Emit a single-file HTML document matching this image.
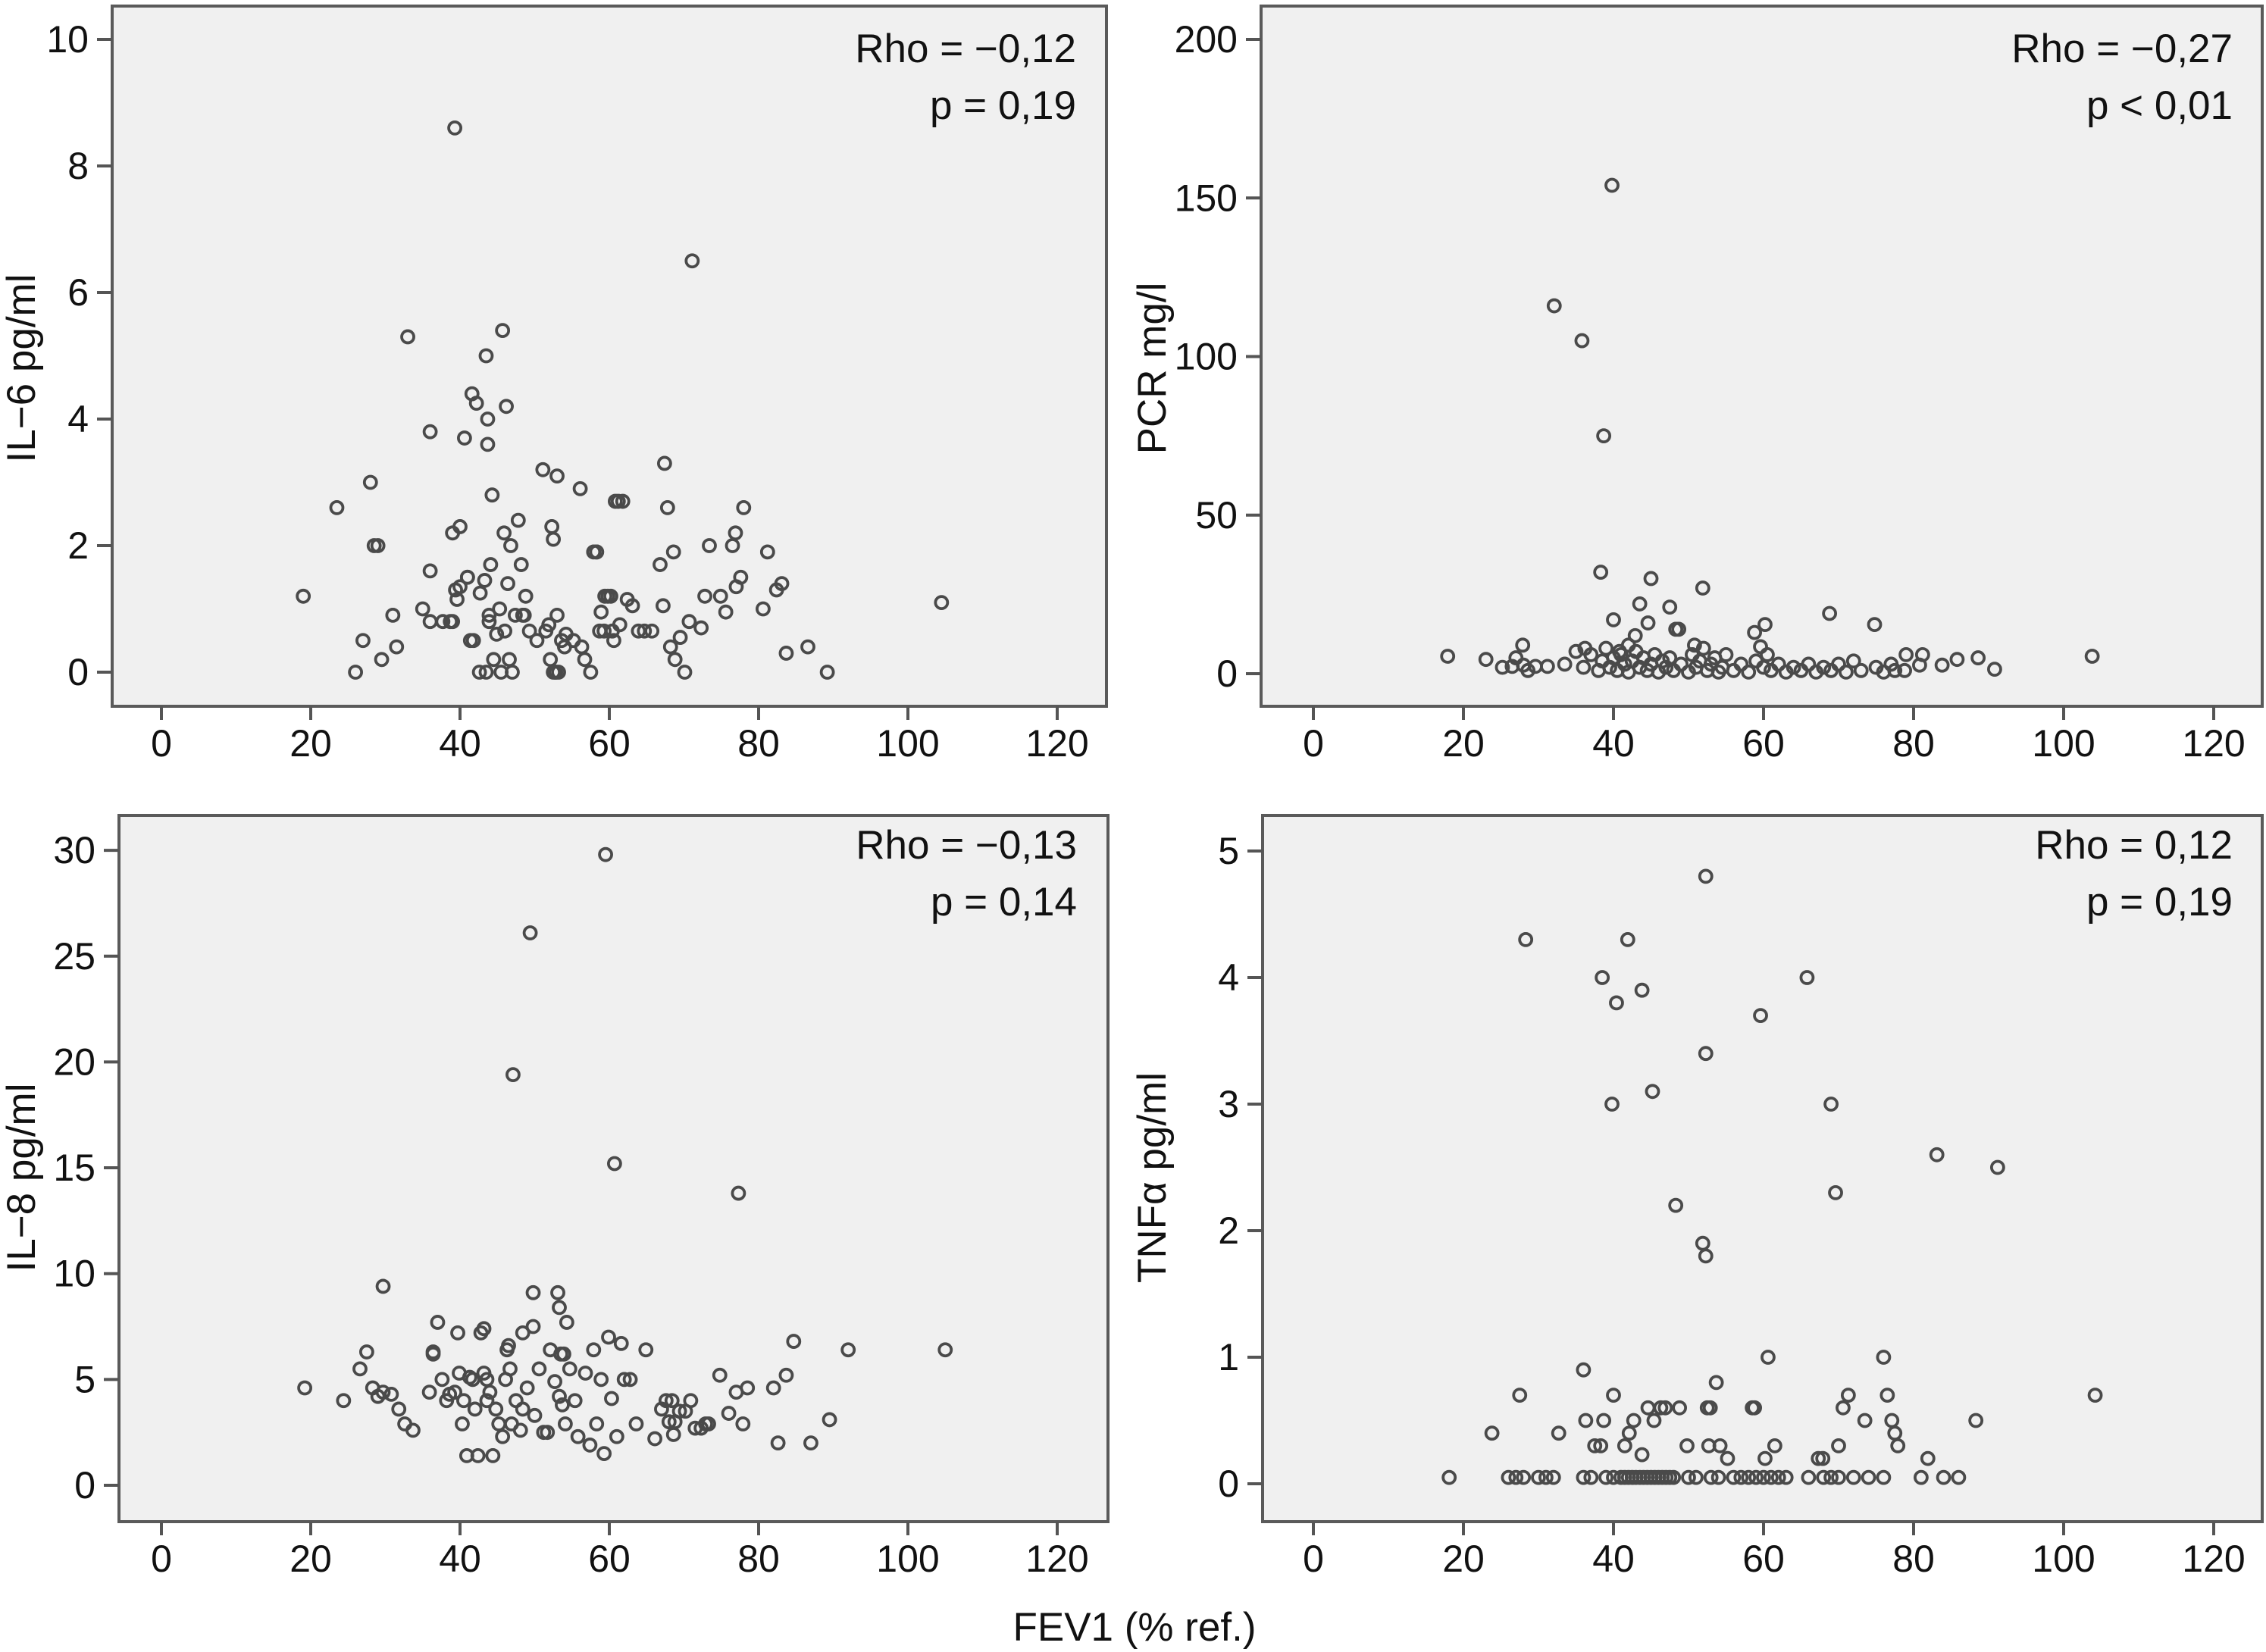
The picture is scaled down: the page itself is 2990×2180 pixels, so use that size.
<!DOCTYPE html>
<html><head><meta charset="utf-8"><style>
html,body{margin:0;padding:0;background:#fff}
svg{display:block}
text{font-family:"Liberation Sans",Arial,sans-serif;fill:#111}
</style></head><body>
<svg id="chart" width="2990" height="2180" viewBox="0 0 2990 2180" xmlns="http://www.w3.org/2000/svg">
<text x="1497" y="2165" font-size="53" text-anchor="middle">FEV1 (% ref.)</text>
</svg>
<script>
const xTicks = [0,20,40,60,80,100,120];
const il6Ticks = [0,2,4,6,8,10];
const pcrTicks = [0,50,100,150,200];
const il8Ticks = [0,5,10,15,20,25,30];
const tnfTicks = [0,1,2,3,4,5];
const il6Fev = [19,23.5,26,27,28,28.5,29,29.5,31,31.5,33,35,36,36,36,37.7,38.7,39,40,39,39.4,40,39.6,39.3,40.6,41,41,41.6,41.8,41.4,42.2,42.6,42.7,43.3,43.5,43.5,43.7,43.7,43.9,43.9,44.1,44.3,44.5,44.9,45.3,45.5,45.7,45.9,46,46.2,46.4,46.6,46.8,47,47.4,47.8,48.2,48.6,48.4,48.8,49.3,50.3,51.1,51.5,51.9,52.1,52.5,52.8,53.2,52.8,53,52.3,52.5,53,53.6,54,54.2,55.2,56.3,56.1,56.7,57.5,58.3,57.9,58.3,58.9,58.7,59.3,59.8,59.4,60.2,60.4,60.6,61.4,61.8,60.8,61.2,62.4,63.1,63.9,64.7,65.7,66.8,67.2,67.4,67.8,68.2,68.6,68.8,69.5,70.1,70.7,71.1,72.3,72.8,73.4,74.9,75.6,76.5,76.9,77,77.6,78,80.6,81.2,82.4,83.1,83.7,86.6,89.2,104.5];
const il6Val = [1.2,2.6,0,0.5,3.0,2.0,2.0,0.2,0.9,0.4,5.3,1.0,1.6,3.8,0.8,0.8,0.8,0.8,2.3,2.2,1.3,1.35,1.15,8.6,3.7,1.5,1.5,4.4,0.5,0.5,4.25,0,1.25,1.45,0,5.0,4.0,3.6,0.9,0.8,1.7,2.8,0.2,0.6,1.0,0,5.4,2.2,0.65,4.2,1.4,0.2,2.0,0,0.9,2.4,1.7,0.9,0.9,1.2,0.65,0.5,3.2,0.65,0.75,0.2,0,0,0,0,3.1,2.3,2.1,0.9,0.5,0.4,0.6,0.5,0.4,2.9,0.2,0,1.9,1.9,1.9,0.95,0.65,0.65,1.2,1.2,1.2,0.65,0.5,0.75,2.7,2.7,2.7,1.15,1.05,0.65,0.65,0.65,1.7,1.05,3.3,2.6,0.4,1.9,0.2,0.55,0,0.8,6.5,0.7,1.2,2.0,1.2,0.95,2.0,2.2,1.35,1.5,2.6,1.0,1.9,1.3,1.4,0.3,0.4,0,1.1,0,1.2];
const pcrFev = [17.9,23,25.2,26.5,27,27.9,28,28.6,29.6,31.2,32.1,35.8,38.7,39.8,38.3,68.8,74.8,51.9,45,43.5,47.5,40,44.6,42.9,48.3,48.7,60.2,58.8,36.2,42,50.8,59.6,40.8,33.5,35,36,37,38,38.5,39,39.5,40,40.5,41,41.5,42,42.5,43,43.5,44,44.5,45,45.5,46,46.5,47,47.5,48,49,50,50.5,51,51.5,52,52.5,53,53.5,54,54.5,55,56,57,58,59,60,60.5,61,62,63,64,65,66,67,68,69,70,71,72,73,75,76,77,77.5,79,78.8,80.8,83.8,81.2,85.8,88.6,90.8,103.8];
const pcrVal = [5.5,4.5,2,2.3,5,9,2.7,1,2.3,2.3,116,105,75,154,32,19,15.5,27,30,22,21,17,16,12,14,14,15.5,13,8,9,9,8.5,7,3,7,2,6,1,4,8,2,5,1,6,3,0.5,4,7,2,5,1,3,6,0.5,4,2,5,1,3,0.5,6,2,4,8,1,3,5,0.5,2,6,1,3,0.5,4,2,6,1,3,0.5,2,1,3,0.5,2,1,3,0.5,4,1,2,0.5,3,1,6,1,2.7,2.7,6,4.5,5,1.4,5.5];
const il8Fev = [19.2,24.4,26.6,27.5,28.3,29,29.7,29.7,30.8,31.8,32.6,33.7,35.9,36.4,36.4,37,37.6,38.2,38.6,39.3,39.7,39.9,40.3,40.5,40.9,41.3,41.7,42,42.4,42.8,43.2,43.2,43.6,43.6,44,44.4,44.8,45.2,45.7,46.1,46.5,46.3,46.7,47.1,46.9,47.5,48.1,48.4,48.4,49,49.4,49.8,49.8,50,50.6,51.2,51.7,52.1,52.7,53.1,53.3,53.5,53.9,53.3,53.7,54.1,54.3,54.7,55.4,55.8,56.8,57.4,57.9,58.3,58.9,59.3,59.5,59.9,60.3,60.7,61,61.6,62,62.8,63.6,64.9,66.1,67,67.6,68.4,68,68.8,68.6,69.4,70.2,70.9,71.5,72.3,72.9,73.3,74.8,76,77,77.3,77.9,78.5,82,82.6,83.7,84.7,87,89.5,92,105];
const il8Val = [4.6,4.0,5.5,6.3,4.6,4.2,4.4,9.4,4.3,3.6,2.9,2.6,4.4,6.3,6.2,7.7,5,4,4.3,4.4,7.2,5.3,2.9,4,1.4,5.1,5,3.6,1.4,7.2,7.4,5.3,5,4,4.4,1.4,3.6,2.9,2.3,5,6.6,6.4,5.5,19.4,2.9,4,2.6,7.2,3.6,4.6,26.1,7.5,9.1,3.3,5.5,2.5,2.5,6.4,4.9,9.1,8.4,6.2,6.2,4.2,3.8,2.9,7.7,5.5,4,2.3,5.3,1.9,6.4,2.9,5,1.5,29.8,7,4.1,15.2,2.3,6.7,5,5,2.9,6.4,2.2,3.6,4,4,3,3,2.4,3.5,3.5,4,2.7,2.7,2.9,2.9,5.2,3.4,4.4,13.8,2.9,4.6,4.6,2,5.2,6.8,2,3.1,6.4,6.4];
const tnfFev = [18.1,23.8,27.5,28.3,32.7,36,36.3,37.5,38.3,38.7,38.5,39.8,40,40.4,41.5,41.9,42.1,42.7,43.8,43.8,44.6,45.2,45.4,46.3,46.9,48.3,48.8,49.8,51.9,52.3,52.3,52.3,52.5,52.9,52.7,53.7,54.2,55.2,58.5,58.8,59.6,60.2,60.6,61.5,65.8,67.3,67.9,69,69.6,70,70.6,71.3,73.5,76,76.5,77.1,77.5,77.9,81.9,83.1,88.3,91.2,104.2,26,27,28,30,31,32,36,37,39,40,41,41.5,42,42.5,43,43.5,44,44.5,45,45.5,46,46.5,47,47.5,48,50,51,53,54,56,57,58,59,60,61,62,63,66,68,69,70,72,74,76,81,84,86];
const tnfVal = [0.05,0.4,0.7,4.3,0.4,0.9,0.5,0.3,0.3,0.5,4.0,3.0,0.7,3.8,0.3,4.3,0.4,0.5,3.9,0.23,0.6,3.1,0.5,0.6,0.6,2.2,0.6,0.3,1.9,1.8,4.8,3.4,0.6,0.6,0.3,0.8,0.3,0.2,0.6,0.6,3.7,0.2,1.0,0.3,4.0,0.2,0.2,3.0,2.3,0.3,0.6,0.7,0.5,1.0,0.7,0.5,0.4,0.3,0.2,2.6,0.5,2.5,0.7,0.05,0.05,0.05,0.05,0.05,0.05,0.05,0.05,0.05,0.05,0.05,0.05,0.05,0.05,0.05,0.05,0.05,0.05,0.05,0.05,0.05,0.05,0.05,0.05,0.05,0.05,0.05,0.05,0.05,0.05,0.05,0.05,0.05,0.05,0.05,0.05,0.05,0.05,0.05,0.05,0.05,0.05,0.05,0.05,0.05,0.05,0.05];

const NS='http://www.w3.org/2000/svg';
const svg=document.getElementById('chart');
function mk(tag,attrs,parent){const e=document.createElementNS(NS,tag);for(const k in attrs)e.setAttribute(k,attrs[k]);(parent||svg).appendChild(e);return e;}

function panel(p){
  const g=mk('g',{});
  
  
  const xs=v=>p.x0+v*p.kx, ys=v=>p.y0-v*p.ky;
  const fr=mk('rect',{x:p.L,y:p.T,width:p.R-p.L,height:p.B-p.T,fill:'#f0f0f0',stroke:'#5a5a5a','stroke-width':4},g);
  
  
  xTicks.forEach(t=>{
    const ln=mk('line',{x1:xs(t),x2:xs(t),y1:p.B,y2:p.B+18,stroke:'#555','stroke-width':4},g);
    
    
    const tx=mk('text',{x:xs(t),y:p.B+66,'font-size':50,'text-anchor':'middle'},g);
    
    
    tx.textContent=t;
  });
  p.yt.forEach(t=>{
    const ln=mk('line',{x1:p.L-20,x2:p.L,y1:ys(t),y2:ys(t),stroke:'#555','stroke-width':4},g);
    
    
    const tx=mk('text',{x:p.L-31,y:ys(t)+17,'font-size':50,'text-anchor':'end'},g);
    
    
    tx.textContent=t;
  });
  const yt=mk('text',{x:0,y:0,'font-size':53,'text-anchor':'middle',transform:`translate(${p.titleX},${p.titleY}) rotate(-90)`},g);
  
  
  yt.innerHTML=p.title;
  p.xd.forEach((v,i)=>{
    const c=mk('circle',{cx:xs(v),cy:ys(p.yd[i]),r:8,fill:'none',stroke:'#4a4a4a','stroke-width':3.8},g);
    
    
  });
  p.ann.forEach((s,i)=>{
    const tx=mk('text',{x:p.annX,y:p.annY+i*75,'font-size':53,'text-anchor':'end'},g);
    
    
    tx.textContent=s;
  });
}
panel({name:'il6-panel',L:148,T:8,R:1460,B:932,x0:213,kx:9.85,y0:887,ky:83.5,yt:il6Ticks,xd:il6Fev,yd:il6Val,title:'IL\u22126 pg/ml',titleX:46,titleY:486,ann:['Rho = \u22120,12','p = 0,19'],annX:1420,annY:82});
panel({name:'pcr-panel',L:1664,T:8,R:2985,B:932,x0:1733,kx:9.9,y0:889,ky:4.185,yt:pcrTicks,xd:pcrFev,yd:pcrVal,title:'PCR mg/l',titleX:1538,titleY:486,ann:['Rho = \u22120,27','p < 0,01'],annX:2946,annY:82});
panel({name:'il8-panel',L:157,T:1076,R:1462,B:2008,x0:213,kx:9.85,y0:1960,ky:27.93,yt:il8Ticks,xd:il8Fev,yd:il8Val,title:'IL\u22128 pg/ml',titleX:46,titleY:1554,ann:['Rho = \u22120,13','p = 0,14'],annX:1421,annY:1133});
panel({name:'tnf-panel',L:1666,T:1076,R:2985,B:2008,x0:1733,kx:9.9,y0:1958,ky:167,yt:tnfTicks,xd:tnfFev,yd:tnfVal,title:'TNF\u03b1 pg/ml',titleX:1538,titleY:1554,ann:['Rho = 0,12','p = 0,19'],annX:2946,annY:1133});
</script>
</body></html>
